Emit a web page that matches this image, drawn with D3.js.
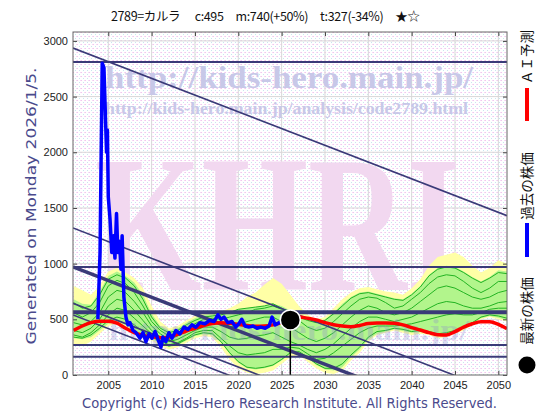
<!DOCTYPE html>
<html>
<head>
<meta charset="utf-8">
<script src="https://d3js.org/d3.v7.min.js"></script>
<style>
  body { margin: 0; background: #fff; }
  svg { display: block; }
</style>
</head>
<body>
<div id="chart"></div>
<script>
const yearTicks = [2005, 2010, 2015, 2020, 2025, 2030, 2035, 2040, 2045, 2050];
const priceTicks = [0, 500, 1000, 1500, 2000, 2500, 3000];
const years = d3.range(2001, 2052);

// AI forecast (red), one value per year 2001..2051
const aiForecast = [400, 440, 470, 482, 482, 465, 420, 380, 355, 345, 335, 340, 365, 395, 420, 445, 462, 470, 465, 455,
  445, 438, 440, 450, 470, 495, 520, 510, 495, 470, 452, 440, 434, 445, 462, 466, 466, 464, 450, 425,
  404, 380, 362, 360, 390, 430, 460, 478, 478, 455, 415];

// past prices (blue) [year, price]
const pastPrice = [[2003.8, 500], [2004.05, 1100], [2004.3, 2800], [2004.5, 2760], [2004.68, 2300], [2004.8, 2000],
  [2004.9, 2200], [2005.0, 1600], [2005.2, 1400], [2005.4, 1100], [2005.6, 1250], [2005.77, 1050], [2005.95, 1450],
  [2006.1, 1100], [2006.3, 1200], [2006.46, 950], [2006.6, 1250], [2006.8, 700], [2007.04, 520], [2007.27, 450],
  [2007.5, 470], [2007.85, 400], [2008.2, 380], [2008.66, 330], [2009.0, 380], [2009.35, 300], [2009.7, 370],
  [2010.04, 330], [2010.4, 390], [2010.73, 320], [2011.08, 250], [2011.3, 340], [2011.65, 300], [2012.0, 380],
  [2012.35, 330], [2012.8, 400], [2013.27, 370], [2013.73, 430], [2014.2, 410], [2014.65, 450], [2015.1, 430],
  [2015.58, 470], [2016.15, 460], [2016.7, 490], [2017.2, 480], [2017.65, 540], [2018.0, 500], [2018.35, 520],
  [2018.8, 470], [2019.27, 480], [2019.7, 430], [2020.07, 460], [2020.4, 500], [2020.77, 440], [2021.2, 430],
  [2021.7, 440], [2022.15, 420], [2022.6, 430], [2023.1, 420], [2023.55, 440], [2023.9, 520], [2024.25, 450],
  [2024.7, 470], [2025.2, 480], [2025.6, 490], [2026.0, 495]];

const latest = [2026.0, 495];

// outer (yellow) and inner (green) range, per year
const outerHigh = [800, 760, 720, 800, 930, 960, 920, 870, 780, 620, 480, 420, 440, 490, 530, 560, 560, 570, 600, 640,
  700, 740, 810, 870, 820, 720, 620, 540, 500, 520, 600, 680, 740, 780, 790, 770, 750, 740, 720, 780,
  860, 980, 1060, 1080, 1100, 1060, 980, 920, 960, 1030, 1000];
const outerLow = [260, 260, 300, 370, 440, 460, 430, 380, 340, 310, 260, 230, 250, 290, 330, 350, 340, 250, 140, 60,
  20, 10, 20, 40, 100, 160, 180, 120, 60, 20, 10, 40, 130, 200, 300, 360, 380, 400, 380, 360,
  370, 360, 330, 340, 370, 400, 450, 500, 520, 500, 480];
const innerHigh = [680, 640, 630, 750, 890, 930, 890, 830, 720, 550, 440, 400, 420, 470, 510, 540, 545, 555, 570, 590,
  600, 610, 620, 640, 620, 580, 540, 500, 480, 500, 560, 640, 700, 740, 750, 730, 710, 690, 680, 730,
  800, 900, 960, 980, 970, 930, 880, 840, 880, 940, 930];
const innerLow = [330, 320, 340, 400, 460, 480, 450, 400, 360, 330, 280, 250, 270, 310, 350, 365, 360, 290, 190, 110,
  60, 50, 60, 80, 130, 190, 200, 150, 90, 50, 40, 70, 160, 230, 320, 370, 390, 410, 395, 380,
  385, 380, 355, 360, 385, 415, 460, 510, 530, 515, 495];

// simulated paths (green), per year
const simA = [650, 600, 620, 720, 860, 900, 870, 800, 680, 520, 420, 380, 400, 450, 490, 520, 530, 540, 560, 590,
  600, 610, 620, 640, 600, 560, 520, 490, 470, 490, 550, 620, 690, 730, 740, 720, 700, 680, 670, 720,
  790, 890, 950, 970, 960, 920, 870, 830, 870, 920, 910];
const simB = [560, 520, 560, 650, 800, 850, 820, 740, 620, 480, 400, 350, 380, 420, 460, 500, 510, 500, 520, 540,
  560, 590, 600, 620, 590, 540, 490, 430, 400, 420, 480, 550, 620, 680, 700, 690, 650, 600, 620, 680,
  740, 820, 880, 900, 890, 840, 780, 740, 780, 840, 840];
const simC = [470, 450, 480, 560, 700, 760, 740, 660, 560, 440, 370, 320, 350, 390, 430, 470, 480, 450, 430, 450,
  480, 500, 520, 520, 480, 430, 380, 330, 300, 330, 380, 450, 520, 580, 620, 600, 560, 540, 560, 600,
  660, 720, 780, 800, 780, 740, 700, 680, 700, 740, 760];
const simD = [400, 380, 420, 500, 620, 680, 660, 580, 490, 400, 340, 300, 320, 360, 400, 430, 430, 390, 340, 320,
  330, 350, 360, 380, 340, 300, 270, 230, 200, 230, 280, 350, 420, 480, 520, 520, 500, 480, 500, 520,
  560, 600, 640, 660, 650, 620, 600, 600, 620, 650, 660];
const simE = [360, 340, 380, 450, 540, 600, 580, 510, 440, 370, 310, 270, 290, 330, 380, 400, 400, 330, 260, 200,
  180, 190, 200, 230, 230, 250, 240, 190, 140, 150, 200, 260, 320, 380, 420, 440, 440, 440, 450, 460,
  480, 500, 520, 540, 550, 540, 540, 560, 590, 600, 600];
const simF = [340, 330, 360, 420, 490, 520, 500, 450, 390, 350, 290, 260, 280, 320, 360, 380, 370, 300, 200, 120,
  70, 60, 70, 90, 140, 200, 210, 160, 100, 60, 60, 100, 180, 250, 340, 390, 400, 420, 410, 390,
  400, 390, 370, 380, 400, 430, 470, 520, 540, 530, 510];

const levels = [2810, 970, 563, 270, 165];
const levelWidths = [2, 2, 4, 2, 2];
// trend lines: price at 2000.93 and at 2051
const trendStart = [2936, 1320, 970, 644, 539];
const trendEnd = [1431, -185, -535, -861, -966];
const trendWidths = [1.6, 1.6, 3.5, 1.6, 1.6];

const width = 560;
const height = 420;
const margin = {top: 32, right: 53, bottom: 45, left: 73};
const innerWidth = width - margin.left - margin.right;
const innerHeight = height - margin.top - margin.bottom;
const navy = "#3a3a78";

const root = d3.select("#chart").append("svg")
  .attr("width", width)
  .attr("height", height)
  .attr("viewBox", `0 0 ${width} ${height}`);

const defs = root.append("defs");
const pat = defs.append("pattern")
  .attr("id", "dots")
  .attr("width", 4).attr("height", 4)
  .attr("patternUnits", "userSpaceOnUse");
pat.append("rect").attr("width", 4).attr("height", 4).attr("fill", "#ffffff");
[[0, 0, "#f2c6f0"], [2, 2, "#c8e6f0"], [3, 0, "#f6dcf4"]].forEach(d => {
  pat.append("rect").attr("x", d[0]).attr("y", d[1]).attr("width", 1).attr("height", 1).attr("fill", d[2]);
});
defs.append("clipPath").attr("id", "plot-clip")
  .append("rect").attr("width", innerWidth).attr("height", innerHeight);

const svg = root.append("g")
  .attr("transform", `translate(${margin.left},${margin.top})`);

const x = d3.scaleLinear().domain([2000.93, 2051]).range([0, innerWidth]);
const y = d3.scaleLinear().domain([0, 3080]).range([innerHeight, 0]);

svg.append("rect")
  .attr("width", innerWidth).attr("height", innerHeight)
  .attr("fill", "url(#dots)");

// grid
svg.append("g").selectAll("line")
  .data(yearTicks).enter().append("line")
  .attr("x1", d => x(d)).attr("x2", d => x(d))
  .attr("y1", 0).attr("y2", innerHeight)
  .attr("stroke", "#d8d8d8");
svg.append("g").selectAll("line")
  .data(priceTicks.slice(1)).enter().append("line")
  .attr("x1", 0).attr("x2", innerWidth)
  .attr("y1", d => y(d)).attr("y2", d => y(d))
  .attr("stroke", "#d8d8d8");

// watermarks
const wm = svg.append("g").attr("font-family", "'Liberation Serif', 'DejaVu Serif', serif");
wm.append("text")
  .attr("x", 22).attr("y", 258)
  .attr("textLength", 365).attr("lengthAdjust", "spacingAndGlyphs")
  .attr("font-size", 196).attr("font-weight", "bold").attr("fill", "#f2d8f0")
  .text("KHRI");
wm.append("text")
  .attr("x", 32).attr("y", 56)
  .attr("textLength", 368).attr("lengthAdjust", "spacingAndGlyphs")
  .attr("font-size", 32).attr("font-weight", "bold").attr("fill", "#c8c8e8")
  .text("http://kids-hero.main.jp/");
wm.append("text")
  .attr("x", 32).attr("y", 82)
  .attr("textLength", 363).attr("lengthAdjust", "spacingAndGlyphs")
  .attr("font-size", 16).attr("font-weight", "bold").attr("fill", "#c8c8e8")
  .text("http://kids-hero.main.jp/analysis/code2789.html");

const plot = svg.append("g").attr("clip-path", "url(#plot-clip)");

const band = (hi, lo) => d3.area()
  .x((d, i) => x(years[i]))
  .y0((d, i) => y(lo[i]))
  .y1((d, i) => y(hi[i]));

plot.append("path").datum(outerHigh)
  .attr("d", band(outerHigh, outerLow))
  .attr("fill", "#ffffa6");
plot.append("path").datum(innerHigh)
  .attr("d", band(innerHigh, innerLow))
  .attr("fill", "#b2f58c");

const yearLine = d3.line()
  .x((d, i) => x(years[i]))
  .y(d => y(d));

plot.selectAll(".sim")
  .data([simA, simB, simC, simD, simE, simF])
  .enter().append("path")
  .attr("class", "sim")
  .attr("d", yearLine)
  .attr("fill", "none")
  .attr("stroke", "#22b422")
  .attr("stroke-width", 1);

plot.append("text")
  .attr("x", 36).attr("y", 308)
  .attr("textLength", 360).attr("lengthAdjust", "spacingAndGlyphs")
  .attr("font-family", "'Liberation Serif', serif")
  .attr("font-size", 30).attr("font-weight", "bold")
  .attr("fill", "#8c8cd0").attr("opacity", 0.3)
  .text("http://kids-hero.main.jp/");

// support / resistance levels
plot.selectAll(".level")
  .data(levels).enter().append("line")
  .attr("class", "level")
  .attr("x1", 0).attr("x2", innerWidth)
  .attr("y1", d => y(d)).attr("y2", d => y(d))
  .attr("stroke", navy)
  .attr("stroke-width", (d, i) => levelWidths[i]);

plot.selectAll(".trend")
  .data(trendStart).enter().append("line")
  .attr("class", "trend")
  .attr("x1", x(2000.93)).attr("x2", x(2051))
  .attr("y1", d => y(d)).attr("y2", (d, i) => y(trendEnd[i]))
  .attr("stroke", navy)
  .attr("stroke-width", (d, i) => trendWidths[i]);

plot.append("path").datum(aiForecast)
  .attr("d", yearLine.curve(d3.curveMonotoneX))
  .attr("fill", "none")
  .attr("stroke", "#ff0000")
  .attr("stroke-width", 3.5);

plot.append("path").datum(pastPrice)
  .attr("d", d3.line().x(d => x(d[0])).y(d => y(d[1])))
  .attr("fill", "none")
  .attr("stroke", "#0000ff")
  .attr("stroke-width", 3.5)
  .attr("stroke-linejoin", "round");

plot.append("line")
  .attr("x1", x(latest[0])).attr("x2", x(latest[0]))
  .attr("y1", y(latest[1])).attr("y2", innerHeight)
  .attr("stroke", "#000").attr("stroke-width", 1.5);
plot.append("circle")
  .attr("cx", x(latest[0])).attr("cy", y(latest[1]))
  .attr("r", 10)
  .attr("fill", "#000").attr("stroke", "#fff").attr("stroke-width", 1.5);

// axes
const styleAxis = g => {
  g.select(".domain").remove();
  g.selectAll(".tick line").attr("stroke", "#444");
  g.selectAll(".tick text").attr("fill", "#222")
    .attr("font-family", "'Liberation Sans', Arial, sans-serif").attr("font-size", 11);
};
const noLabels = g => g.selectAll(".tick text").remove();
svg.append("g")
  .call(d3.axisLeft(y).tickValues(priceTicks).tickSizeInner(-4).tickSizeOuter(0).tickPadding(5).tickFormat(d3.format("d")))
  .call(styleAxis);
svg.append("g")
  .attr("transform", `translate(${innerWidth},0)`)
  .call(d3.axisRight(y).tickValues(priceTicks).tickSizeInner(-4).tickSizeOuter(0))
  .call(styleAxis).call(noLabels);
svg.append("g")
  .attr("transform", `translate(0,${innerHeight})`)
  .call(d3.axisBottom(x).tickValues(yearTicks).tickSizeInner(-4).tickSizeOuter(0).tickPadding(6).tickFormat(d3.format("d")))
  .call(styleAxis);
svg.append("g")
  .call(d3.axisTop(x).tickValues(yearTicks).tickSizeInner(-4).tickSizeOuter(0))
  .call(styleAxis).call(noLabels);

svg.append("rect")
  .attr("width", innerWidth).attr("height", innerHeight)
  .attr("fill", "none").attr("stroke", "#666").attr("stroke-width", 1);

// title and side texts
root.append("text")
  .attr("x", 111).attr("y", 21)
  .attr("textLength", 309).attr("lengthAdjust", "spacing")
  .attr("font-family", "'Noto Sans CJK JP', sans-serif").attr("font-size", 12.5)
  .attr("fill", "#111")
  .style("white-space", "pre")
  .text("2789=カルラ　 c:495　m:740(+50%)　t:327(-34%)　★☆");

root.append("text")
  .attr("transform", "translate(31,206) rotate(-90)")
  .attr("text-anchor", "middle").attr("dy", "0.35em")
  .attr("textLength", 277).attr("lengthAdjust", "spacingAndGlyphs")
  .attr("font-family", "'DejaVu Sans', sans-serif").attr("font-size", 14)
  .attr("fill", "#4a4a8c")
  .text("Generated on Monday 2026/1/5.");

root.append("text")
  .attr("x", 82).attr("y", 408)
  .attr("textLength", 415).attr("lengthAdjust", "spacingAndGlyphs")
  .attr("font-family", "'DejaVu Sans', sans-serif").attr("font-size", 14)
  .attr("fill", "#4a4a8c")
  .text("Copyright (c) Kids-Hero Research Institute. All Rights Reserved.");

// legend
const legendLabels = ["ＡＩ予測", "過去の株価", "最新の株価"];
const legendCenters = [57, 186, 311];
root.selectAll(".legend-label")
  .data(legendLabels).enter().append("text")
  .attr("class", "legend-label")
  .attr("transform", (d, i) => `translate(527,${legendCenters[i]}) rotate(-90)`)
  .attr("text-anchor", "middle").attr("dy", "0.35em")
  .attr("font-family", "'Noto Sans CJK JP', sans-serif").attr("font-size", 13.5)
  .attr("fill", "#111")
  .text(d => d);
root.append("rect").attr("x", 525).attr("y", 88).attr("width", 4).attr("height", 33).attr("fill", "#ff0000");
root.append("rect").attr("x", 525).attr("y", 223).attr("width", 4).attr("height", 34).attr("fill", "#0000ff");
root.append("circle").attr("cx", 527).attr("cy", 365).attr("r", 8.5).attr("fill", "#000");
</script>
</body>
</html>
